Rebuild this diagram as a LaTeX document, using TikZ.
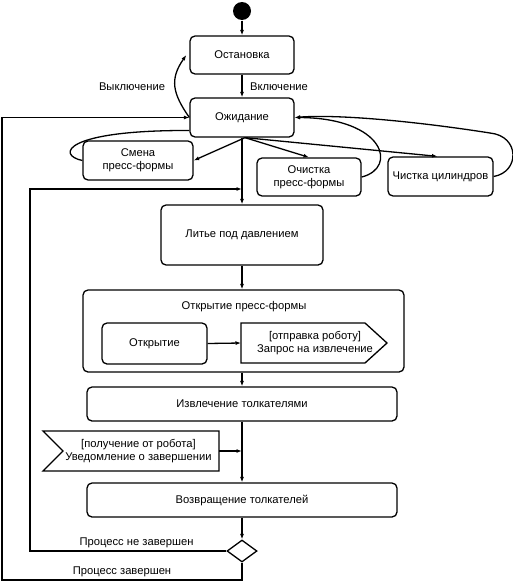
\documentclass[tikz,border=0pt]{standalone}
\usepackage{fontspec}
\setmainfont{Liberation Sans}
\usetikzlibrary{arrows.meta,shapes.geometric}
\begin{document}
\begin{tikzpicture}[x=1pt,y=-1pt,
  every node/.style={font=\fontsize{11.2}{13}\selectfont, inner sep=0pt},
  line width=1.3pt,
  arr/.style={-{Latex[length=5.5pt,width=4pt]}},
  state/.style={draw, rounded corners=5pt, align=center},
  lbl/.style={}]
\useasboundingbox (0,0) rectangle (512,581);
\node[circle, fill, minimum size=18pt] (init) at (242,11) {};
\node[state, minimum width=104pt, minimum height=38pt] (stop) at (242,55) {Остановка};
\node[state, minimum width=104pt, minimum height=39pt] (wait) at (242,117.5) {Ожидание};
\node[state, minimum width=110pt, minimum height=39pt] (smena) at (138,160.5) {Смена\\пресс-формы};
\node[state, minimum width=104pt, minimum height=38pt] (ochist) at (309,177) {Очистка\\пресс-формы};
\node[state, minimum width=105pt, minimum height=39pt] (chist) at (440.5,176.5) {Чистка цилиндров};
\node[state, minimum width=162pt, minimum height=60pt] (lit) at (242,235) {Литье под давлением};
\node[state, minimum width=321pt, minimum height=82pt] (open) at (243.5,331) {};
\node (opentitle) at (244,307) {Открытие пресс-формы};
\node[state, minimum width=105pt, minimum height=41pt] (otkr) at (154.5,343.5) {Открытие};
\node[align=center] (send) at (315,343) {[отправка роботу]\\Запрос на извлечение};
\draw (241,323) -- (365,323) -- (387,343) -- (365,363) -- (241,363) -- cycle;
\coordinate (sendw) at (241,343);
\node[state, minimum width=310pt, minimum height=34pt] (izvl) at (242,404) {Извлечение толкателями};
\node[align=center] (recv) at (138.5,451) {[получение от робота]\\Уведомление о завершении};
\draw (43,431) -- (219,431) -- (219,471) -- (43,471) -- (63,451) -- cycle;
\coordinate (recve) at (219,451);
\node[state, minimum width=310pt, minimum height=34pt] (vozv) at (242,500) {Возвращение толкателей};
\node[draw, diamond, minimum width=30pt, minimum height=22pt] (dia) at (242,551) {};

\node[lbl] (l1) at (132,87) {Выключение};
\node[lbl] (l2) at (279,87) {Включение};
\node[lbl] (l3) at (136.5,543) {Процесс не завершен};
\node[lbl] (l4) at (122,572) {Процесс завершен};

\coordinate (bl) at (2,580);
\coordinate (tl) at (30,189);
\coordinate (j1) at (242,189);
\coordinate (j2) at (242,451);

\draw[arr] (init) -- (stop);
\draw[arr] (stop) -- (wait);
\draw[arr] (wait.west) to[out=125,in=235,looseness=1.2] ([xshift=-3pt]stop.west);
\draw[arr] (dia.south) |- (bl) |- (wait.west);
\draw[arr] (dia.west) -| (tl) -- (j1);
\draw[arr] (wait.south) -- (lit.north);
\draw[arr] ([xshift=3pt]wait.south) -- (smena.east);
\draw[arr] ([xshift=3pt]wait.south) -- (ochist.north);
\draw[arr] ([xshift=3pt]wait.south) -- ([xshift=-3pt]chist.north);
\draw (smena.west) .. controls (56,155) and (64,130) .. ([yshift=-13pt]wait.west);
\draw[arr] (ochist.east) .. controls (398,168) and (385,118) .. (wait.east);
\draw[arr] (chist.east) .. controls (520,172) and (520,136) .. (490,133) .. controls (420,122) and (340,114) .. (wait.east);
\draw[arr] (lit.south) -- (lit.south |- open.north);
\draw[arr] (otkr.east) -- (sendw);
\draw[arr] (izvl.north |- open.south) -- (izvl.north);
\draw (izvl.south) -- (j2);
\draw[arr] (j2) -- (vozv.north);
\draw[arr] (recve) -- (j2);
\draw[arr] (vozv.south) -- (dia.north);
\end{tikzpicture}
\end{document}
